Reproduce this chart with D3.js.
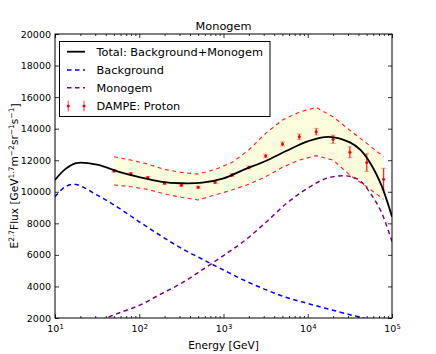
<!DOCTYPE html>
<html><head><meta charset="utf-8">
<script src="https://cdn.jsdelivr.net/npm/d3@7"></script>
<style>body{margin:0;background:#fff}svg{display:block;font-family:"DejaVu Sans",sans-serif}</style>
</head><body><svg id="c" width="436" height="354"></svg>
<script>
// ---- data ----
const curveEnergy = [10, 13.34, 17.78, 31.62, 56.23, 100, 177.8, 316.2, 562.3, 1000, 1778, 3162, 5623, 10000, 17783, 31623, 42170, 56234, 74990, 100000];
const totalFlux = [10750, 11450, 11820, 11720, 11280, 10930, 10650, 10540, 10580, 10850, 11420, 11950, 12600, 13200, 13480, 13130, 12650, 11750, 10400, 8420];
const backgroundFlux = [9690, 10330, 10460, 9790, 9000, 8100, 7230, 6420, 5720, 5040, 4380, 3800, 3300, 2920, 2560, 2210, 2050, 1850, 1700, 1580];
const monogemFlux = [1060, 1200, 1360, 1780, 2300, 2800, 3500, 4200, 5060, 5960, 6900, 8050, 9270, 10230, 10900, 10980, 10680, 9850, 8700, 6840];

const dampeEnergy = [50.1, 79.4, 125.9, 199.5, 316.2, 501.2, 794.3, 1259, 1995, 3162, 5012, 7943, 12589, 19953, 31623, 50119, 79433];
const dampeFlux = [11317, 11150, 10900, 10540, 10420, 10280, 10600, 11060, 11540, 12270, 13030, 13490, 13810, 13330, 12500, 11850, 10800];
const dampeErr = [70, 70, 70, 70, 70, 70, 80, 90, 100, 110, 130, 170, 210, 265, 350, 560, 690];
const bandUpper = [12220, 12014, 11760, 11420, 11230, 11120, 11420, 11850, 12650, 13700, 14550, 15050, 15350, 14750, 13900, 13070, 12220];
const bandLower = [10430, 10320, 10150, 9860, 9650, 9480, 9800, 10110, 10480, 10950, 11550, 12010, 12290, 12010, 11060, 10320, 9520];

const xMajorTicks = [10, 100, 1000, 10000, 100000];
const xTickExponents = ["1", "2", "3", "4", "5"];
const yTicks = [2000, 4000, 6000, 8000, 10000, 12000, 14000, 16000, 18000, 20000];
const legendLabels = ["Total: Background+Monogem", "Background", "Monogem", "DAMPE: Proton"];
const titleText = "Monogem";
const xLabelText = "Energy [GeV]";

// ---- layout ----
const L = 55, R = 392, T = 34, B = 318;
const svg = d3.select("#c");
const x = d3.scaleLog().domain([10, 1e5]).range([L, R]);
const y = d3.scaleLinear().domain([2000, 20000]).range([B, T]);

svg.append("defs").append("clipPath").attr("id", "clip")
  .append("rect").attr("x", L).attr("y", T).attr("width", R - L).attr("height", B - T);
const plot = svg.append("g").attr("clip-path", "url(#clip)");

// band
const bandData = dampeEnergy.map((e, i) => ({e, u: bandUpper[i], l: bandLower[i]}));
plot.append("path").datum(bandData)
  .attr("d", d3.area().x(d => x(d.e)).y0(d => y(d.l)).y1(d => y(d.u)))
  .attr("fill", "#fdfcdc");
["u", "l"].forEach(k => {
  plot.append("path").datum(bandData)
    .attr("d", d3.line().x(d => x(d.e)).y(d => y(d[k])))
    .attr("fill", "none").attr("stroke", "#ff2020").attr("stroke-width", 1.1)
    .attr("stroke-dasharray", "4,3.5");
});

// curves
function curve(vals, color, dash, w) {
  const pts = curveEnergy.map((e, i) => [x(e), y(vals[i])]);
  plot.append("path").attr("d", d3.line().curve(d3.curveCatmullRom.alpha(0.5))(pts))
    .attr("fill", "none").attr("stroke", color).attr("stroke-width", w)
    .attr("stroke-dasharray", dash);
}
curve(backgroundFlux, "#0000ff", "4.5,3.5", 1.5);
curve(monogemFlux, "#800080", "4.5,3.5", 1.5);

// data points
const pg = plot.append("g");
dampeEnergy.forEach((e, i) => {
  const cx = x(e), y1 = y(dampeFlux[i] + dampeErr[i]), y0 = y(dampeFlux[i] - dampeErr[i]);
  pg.append("line").attr("x1", cx).attr("x2", cx).attr("y1", y1).attr("y2", y0)
    .attr("stroke", "#ff0000").attr("stroke-opacity", 0.85).attr("stroke-width", 1.3);
  [y1, y0].forEach(cy => pg.append("line").attr("x1", cx - 2.5).attr("x2", cx + 2.5)
    .attr("y1", cy).attr("y2", cy).attr("stroke", "#ff0000").attr("stroke-opacity", 0.35).attr("stroke-width", 1));
  pg.append("circle").attr("cx", cx).attr("cy", y(dampeFlux[i])).attr("r", 1.5).attr("fill", "#ff0000");
});
curve(totalFlux, "#000000", null, 1.8);

// axes
const minor = [];
for (let d = 10; d < 1e5; d *= 10) for (let k = 2; k <= 9; k++) minor.push(d * k);
function styleAxis(g) {
  g.select(".domain").remove();
  g.selectAll(".tick line").attr("stroke", "#000").attr("stroke-width", 0.8);
  g.selectAll("text").attr("fill", "#000");
}
svg.append("g").attr("transform", `translate(0,${B})`)
  .call(d3.axisBottom(x).tickValues(minor).tickSizeInner(-2).tickSizeOuter(0).tickFormat(""))
  .call(styleAxis);
svg.append("g").attr("transform", `translate(0,${T})`)
  .call(d3.axisTop(x).tickValues(minor).tickSizeInner(-2).tickSizeOuter(0).tickFormat(""))
  .call(styleAxis);
svg.append("g").attr("transform", `translate(0,${T})`)
  .call(d3.axisTop(x).tickValues(xMajorTicks).tickSizeInner(-4).tickSizeOuter(0).tickFormat(""))
  .call(styleAxis);
const xb = svg.append("g").attr("transform", `translate(0,${B})`)
  .call(d3.axisBottom(x).tickValues(xMajorTicks).tickSizeInner(-4).tickSizeOuter(0).tickPadding(5).tickFormat(() => ""))
  .call(styleAxis);
xb.selectAll(".tick text").each(function(d, i) {
  const t = d3.select(this).attr("font-size", 9.5).attr("font-family", "DejaVu Sans").attr("dy", "0.95em");
  t.append("tspan").text("10");
  t.append("tspan").attr("dy", "-0.45em").attr("font-size", 6.8).text(xTickExponents[i]);
});
svg.append("g").attr("transform", `translate(${L},0)`)
  .call(d3.axisLeft(y).tickValues(yTicks).tickSizeInner(-4).tickSizeOuter(0).tickPadding(4).tickFormat(d3.format("d")))
  .call(styleAxis)
  .selectAll("text").attr("font-size", 9.5).attr("font-family", "DejaVu Sans");
svg.append("g").attr("transform", `translate(${R},0)`)
  .call(d3.axisRight(y).tickValues(yTicks).tickSizeInner(-4).tickSizeOuter(0).tickFormat(""))
  .call(styleAxis);

// frame
svg.append("rect").attr("x", L).attr("y", T).attr("width", R - L).attr("height", B - T)
  .attr("fill", "none").attr("stroke", "#000").attr("stroke-width", 1);

// title & labels
svg.append("text").attr("x", (L + R) / 2).attr("y", 30).attr("text-anchor", "middle")
  .attr("font-size", 11.3).text(titleText);
svg.append("text").attr("x", (L + R) / 2).attr("y", 349).attr("text-anchor", "middle")
  .attr("font-size", 10.6).text(xLabelText);
const yl = svg.append("text").attr("transform", `translate(18,${(T + B) / 2}) rotate(-90)`)
  .attr("text-anchor", "middle").attr("font-size", 10.6);
const parts = [["E", 0], ["2.7", 1], ["Flux [GeV", 0], ["1.7", 1], ["m", 0], ["\u22122", 1], ["sr", 0], ["\u22121", 1], ["s", 0], ["\u22121", 1], ["]", 0]];
let up = false;
parts.forEach(([s, sup]) => {
  const ts = yl.append("tspan").text(s);
  if (sup) { ts.attr("font-size", 7.5).attr("dy", up ? 0 : "-0.55em"); up = true; }
  else { ts.attr("dy", up ? "0.4em" : 0); up = false; }
});

// legend
const lg = svg.append("g");
lg.append("rect").attr("x", 59.5).attr("y", 41.5).attr("width", 210.5).attr("height", 75)
  .attr("fill", "#fff").attr("stroke", "#000").attr("stroke-width", 1);
const rows = [51.7, 70, 87.8, 106];
const styles = [["#000", null, 1.8], ["#0000ff", "4.5,3.5", 1.5], ["#800080", "4.5,3.5", 1.5]];
styles.forEach(([c, dash, w], i) => {
  lg.append("line").attr("x1", 67).attr("x2", 85).attr("y1", rows[i]).attr("y2", rows[i])
    .attr("stroke", c).attr("stroke-width", w).attr("stroke-dasharray", dash);
});
[68.3, 84].forEach(cx => {
  lg.append("line").attr("x1", cx).attr("x2", cx).attr("y1", rows[3] - 5.5).attr("y2", rows[3] + 5.5)
    .attr("stroke", "#ff0000").attr("stroke-opacity", 0.55).attr("stroke-width", 1.4);
  lg.append("circle").attr("cx", cx).attr("cy", rows[3]).attr("r", 1.5).attr("fill", "#ff0000");
});
legendLabels.forEach((s, i) => {
  lg.append("text").attr("x", 96.5).attr("y", rows[i]).attr("dy", "0.36em")
    .attr("font-size", 11.3).text(s);
});
</script></body></html>
